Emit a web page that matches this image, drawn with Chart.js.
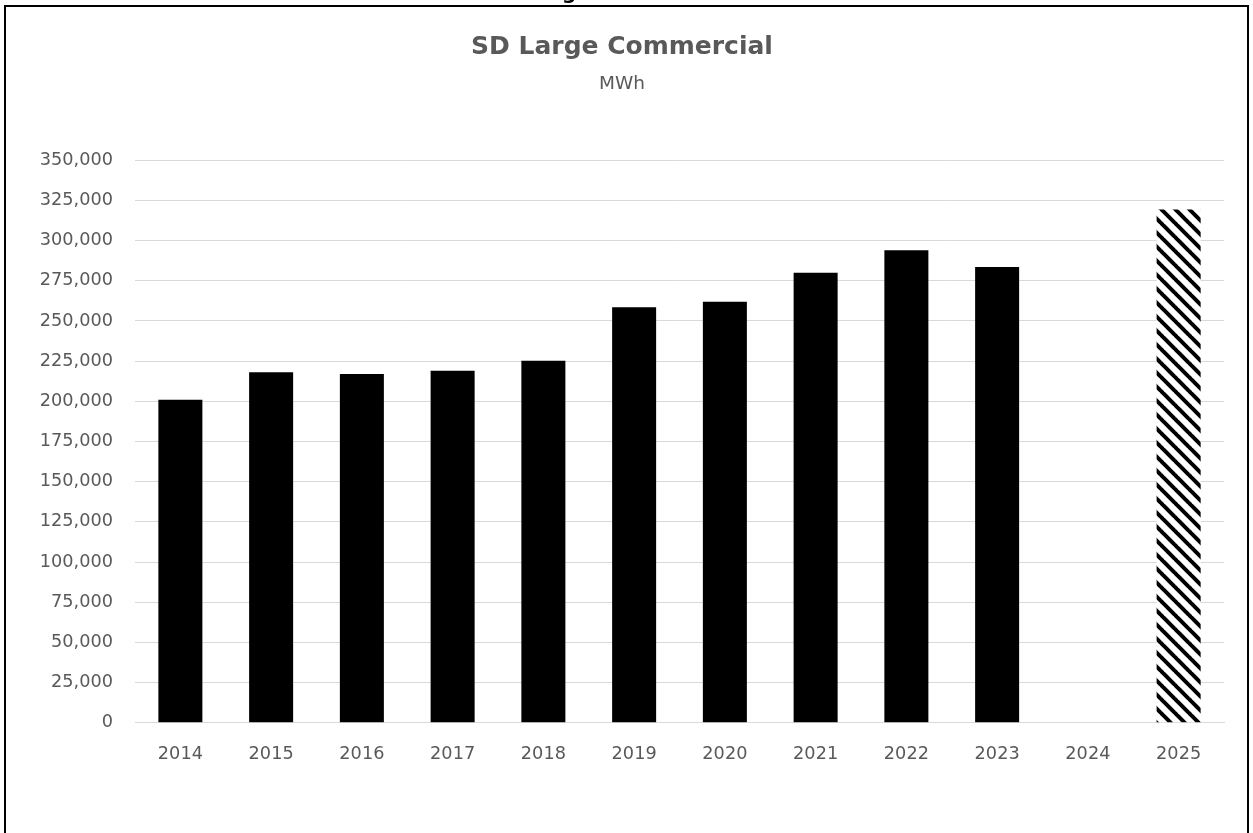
<!DOCTYPE html>
<html>
<head>
<meta charset="utf-8">
<title>SD Large Commercial</title>
<script src="https://cdn.jsdelivr.net/npm/chart.js@4"></script>
<style>
  html, body { margin: 0; padding: 0; background: #ffffff; overflow: hidden; }
  #wrap { position: absolute; left: 0; top: 0; width: 1253px; height: 833px; }
</style>
</head>
<body>
<div id="wrap"><canvas id="chart" width="1253" height="833"></canvas></div>
<script>
// Annual sales, MWh (2024 not reported, 2025 is the forecast year)
const years = ['2014', '2015', '2016', '2017', '2018', '2019', '2020', '2021', '2022', '2023', '2024', '2025'];
const salesMWh = [201000, 218000, 217000, 219000, 225300, 258500, 262000, 280000, 294000, 283500, null, 319300];
const forecastYears = ['2025'];
const yTicks = [0, 25000, 50000, 75000, 100000, 125000, 150000, 175000, 200000, 225000, 250000, 275000, 300000, 325000, 350000];

const TEXT = '#595959';
const FONT = "'DejaVu Sans', 'Liberation Sans', sans-serif";

// Wide downward-diagonal hatch for forecast bars
function makeHatch() {
  const p = 14;
  const c = document.createElement('canvas');
  c.width = p; c.height = p;
  const g = c.getContext('2d');
  g.fillStyle = '#ffffff';
  g.fillRect(0, 0, p, p);
  g.strokeStyle = '#000000';
  g.lineWidth = 4;
  for (const x0 of [-p, 0, p]) {
    g.beginPath();
    g.moveTo(x0 - 1, -1);
    g.lineTo(x0 + p + 1, p + 1);
    g.stroke();
  }
  return g.createPattern(c, 'repeat');
}
const hatch = makeHatch();
const barColors = years.map(y => forecastYears.includes(y) ? hatch : '#000000');

// Page frame around the chart and the tail of the heading above it
const framePlugin = {
  id: 'frame',
  beforeDraw(chart) {
    const ctx = chart.ctx;
    ctx.save();
    ctx.fillStyle = '#ffffff';
    ctx.fillRect(0, 0, chart.width, chart.height);
    ctx.restore();
  },
  afterDraw(chart) {
    const ctx = chart.ctx;
    ctx.save();
    ctx.strokeStyle = '#000000';
    ctx.lineWidth = 2;
    ctx.strokeRect(5, 6, 1243, 1000);
    ctx.fillStyle = '#000000';
    ctx.font = "bold 20px " + FONT;
    ctx.textBaseline = 'alphabetic';
    ctx.fillText('g', 562, -1);
    ctx.restore();
  }
};

new Chart(document.getElementById('chart'), {
  type: 'bar',
  data: {
    labels: years,
    datasets: [{
      label: 'MWh',
      data: salesMWh,
      backgroundColor: barColors,
      borderWidth: 0,
      barPercentage: 0.485,
      categoryPercentage: 1.0
    }]
  },
  plugins: [framePlugin],
  options: {
    responsive: false,
    animation: false,
    devicePixelRatio: 1,
    layout: { padding: { left: 20, right: 29, top: 0, bottom: 47 } },
    plugins: {
      legend: { display: false },
      tooltip: { enabled: false },
      title: {
        display: true,
        text: 'SD Large Commercial',
        color: TEXT,
        font: { family: FONT, size: 25, weight: 'bold', lineHeight: 1.2 },
        padding: { top: 32, bottom: 8 }
      },
      subtitle: {
        display: true,
        text: 'MWh',
        color: TEXT,
        font: { family: FONT, size: 18.5, weight: 'normal', lineHeight: 1.2 },
        padding: { top: 3, bottom: 65 }
      }
    },
    scales: {
      x: {
        grid: { display: false, drawTicks: false },
        border: { display: true, color: '#d9d9d9', width: 1 },
        ticks: {
          color: TEXT,
          font: { family: FONT, size: 17.7 },
          padding: 21,
          maxRotation: 0,
          autoSkip: false
        }
      },
      y: {
        min: 0,
        max: 350000,
        afterBuildTicks(scale) {
          scale.ticks = yTicks.map(v => ({ value: v }));
        },
        afterFit(scale) { scale.width = 115; },
        grid: { color: '#d9d9d9', lineWidth: 1, drawTicks: false },
        border: { display: false },
        ticks: {
          color: TEXT,
          font: { family: FONT, size: 17.7 },
          padding: 22,
          callback: v => Number(v).toLocaleString('en-US')
        }
      }
    }
  }
});
</script>
</body>
</html>
